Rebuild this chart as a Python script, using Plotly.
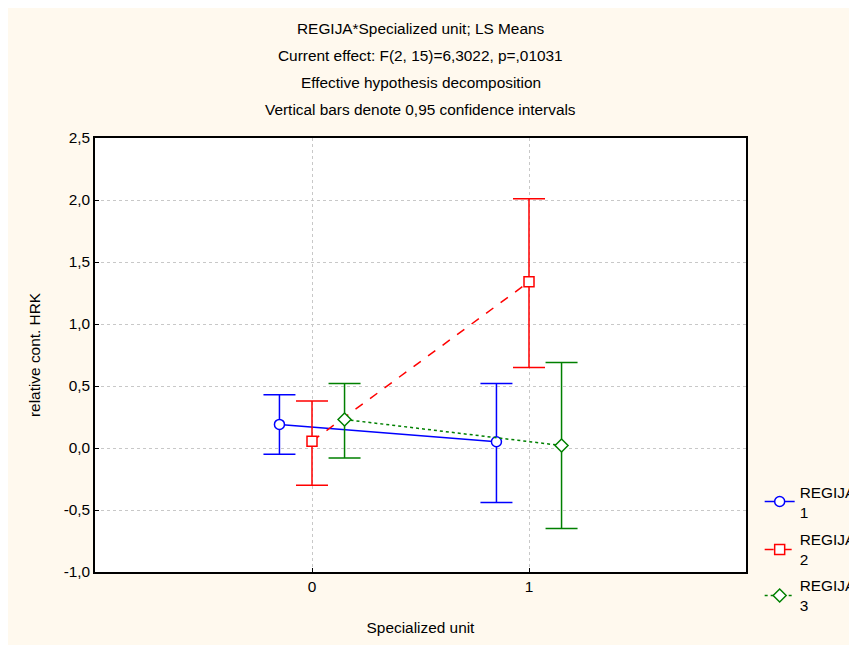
import plotly.graph_objects as go

categories = [0, 1]
series_names = ["REGIJA<br>1", "REGIJA<br>2", "REGIJA<br>3"]
offsets = [-0.15, 0.0, 0.15]
means = [[0.19, 0.05], [0.055, 1.34], [0.23, 0.02]]
upper = [[0.43, 0.52], [0.38, 2.01], [0.52, 0.69]]
lower = [[-0.05, -0.44], [-0.30, 0.65], [-0.08, -0.65]]
colors = ["#0000FF", "#FF0000", "#008000"]
dashes = ["solid", "dash", "dot"]
symbols = ["circle", "square", "diamond"]
y_ticks = [-1.0, -0.5, 0.0, 0.5, 1.0, 1.5, 2.0, 2.5]
y_ticktext = ["-1,0", "-0,5", "0,0", "0,5", "1,0", "1,5", "2,0", "2,5"]
title_lines = [
    "REGIJA*Specialized unit; LS Means",
    "Current effect: F(2, 15)=6,3022, p=,01031",
    "Effective hypothesis decomposition",
    "Vertical bars denote 0,95 confidence intervals",
]
legend_ids = ["legend", "legend2", "legend3"]
legend_y = [0.2235, 0.113, 0.007]

font = "Liberation Sans, Arial, sans-serif"
fs = 15.4

fig = go.Figure()
for i in range(3):
    xs = [c + offsets[i] for c in categories]
    fig.add_trace(go.Scatter(
        x=xs, y=means[i], name=series_names[i], mode="lines+markers",
        legend=legend_ids[i],
        line=dict(color=colors[i], dash=dashes[i], width=1.5),
        marker=dict(symbol=symbols[i], size=10, color="white", line=dict(width=1.5, color=colors[i])),
        error_y=dict(type="data", symmetric=False,
                     array=[u - m for u, m in zip(upper[i], means[i])],
                     arrayminus=[m - l for m, l in zip(means[i], lower[i])],
                     color=colors[i], thickness=1.5, width=16),
    ))

legend_common = dict(x=1.021, xanchor="left", yanchor="top", bgcolor="rgba(0,0,0,0)",
                     font=dict(size=fs), tracegroupgap=0)
fig.update_layout(
    width=857, height=645,
    paper_bgcolor="#FFF9EE", plot_bgcolor="white",
    margin=dict(l=87, r=119, t=130, b=81, autoexpand=False),
    font=dict(family=font, size=fs, color="black"),
    showlegend=True,
    legend=dict(y=legend_y[0], **legend_common),
    legend2=dict(y=legend_y[1], **legend_common),
    legend3=dict(y=legend_y[2], **legend_common),
    xaxis=dict(range=[-1, 2], tickvals=categories, ticktext=["0", "1"],
               showgrid=True, gridcolor="#C8C8C8", griddash="dot", gridwidth=1,
               zeroline=False, showline=True, linecolor="black", linewidth=1.5, mirror=True,
               ticks="inside", ticklen=4, tickcolor="black",
               title=dict(text="Specialized unit", font=dict(size=fs), standoff=28)),
    yaxis=dict(range=[-1, 2.5], tickvals=y_ticks, ticktext=y_ticktext,
               showgrid=True, gridcolor="#C8C8C8", griddash="dot", gridwidth=1,
               zeroline=False, showline=True, linecolor="black", linewidth=1.5, mirror=True,
               ticks="inside", ticklen=4, tickcolor="black",
               title=dict(text="relative cont. HRK", font=dict(size=fs), standoff=19)),
)
for k, t in enumerate(title_lines):
    fig.add_annotation(text=t, xref="paper", yref="paper", x=0.5, y=1,
                       xanchor="center", yanchor="middle", showarrow=False,
                       yshift=130 - 20 - 27.3 * k, font=dict(size=fs))
fig.write_html("out.html")
